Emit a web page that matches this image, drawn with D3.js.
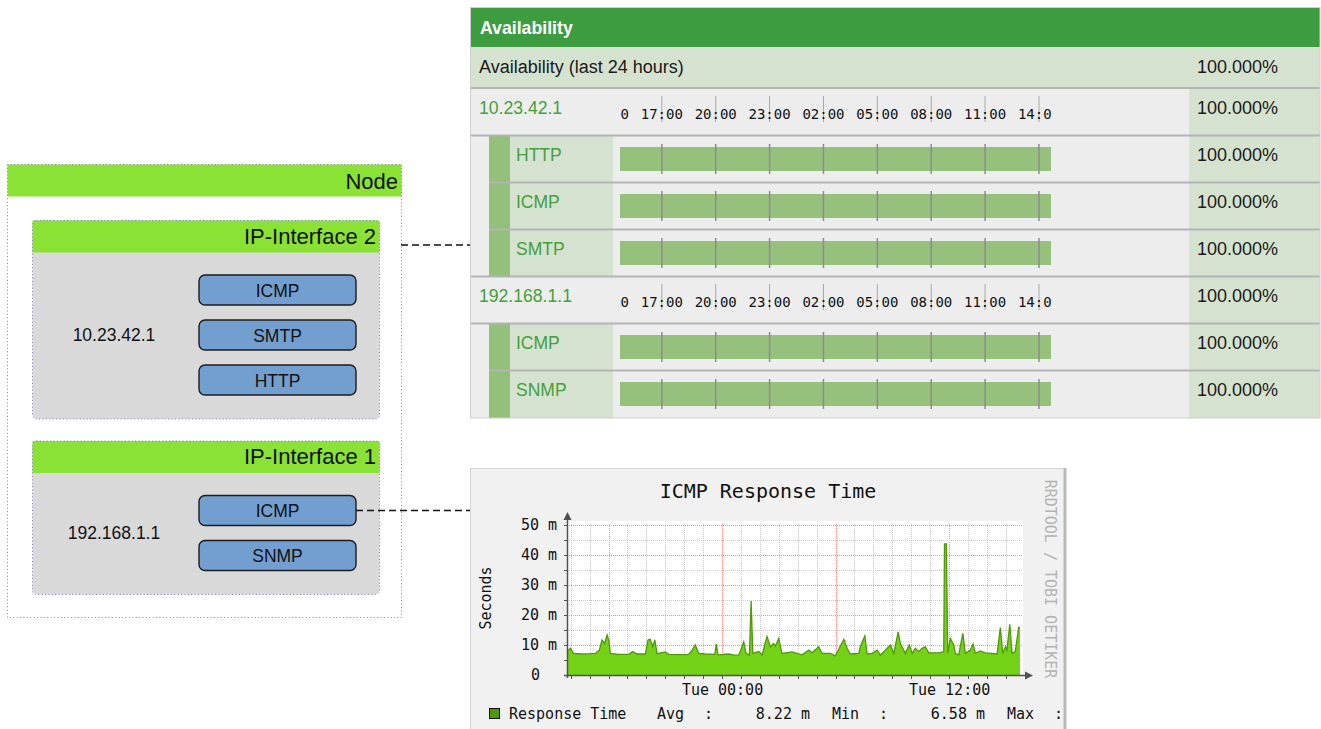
<!DOCTYPE html>
<html>
<head>
<meta charset="utf-8">
<script src="https://cdn.jsdelivr.net/npm/d3@7"></script>
<style>
  body { margin: 0; background: #fff; }
  svg { display: block; }
  .sans { font-family: "Liberation Sans", Arial, sans-serif; }
  .mono { font-family: "DejaVu Sans Mono", monospace; }
</style>
</head>
<body>
<svg id="chart" width="1321" height="729"></svg>
<script>
// ---- node diagram ----
const nodeLabel = "Node";
const ifaceNames = ["IP-Interface 2", "IP-Interface 1"];
const ifaceIps = ["10.23.42.1", "192.168.1.1"];
const ifaceServices = [["ICMP", "SMTP", "HTTP"], ["ICMP", "SNMP"]];

// ---- availability table ----
const tableTitle = "Availability";
const tableSubtitle = "Availability (last 24 hours)";
const hostNames = ["10.23.42.1", "192.168.1.1"];
const hostServices = [["HTTP", "ICMP", "SMTP"], ["ICMP", "SNMP"]];
const overallAvail = 100;
const hostAvail = [100, 100];
const serviceAvail = [[100, 100, 100], [100, 100]];
const availWindow = [14.67, 38.67]; // hours since yesterday 00:00
const availTickHours = [14, 17, 20, 23, 26, 29, 32, 35, 38];
const availTickLabels = ["14:00", "17:00", "20:00", "23:00", "02:00", "05:00", "08:00", "11:00", "14:00"];

// ---- ICMP response time (hours from Tue 00:00, milliseconds) ----
const rtTitle = "ICMP Response Time";
const rtHours = [-8.22, -8.04, -7.87, -7.43, -6.99, -6.72, -6.51, -6.37, -6.23, -6.10, -6.01, -5.93,
  -5.49, -4.96, -4.75, -4.52, -4.08, -3.94, -3.82, -3.69, -3.58, -3.46, -3.02, -2.84, -2.32, -1.79,
  -1.61, -1.44, -1.26, -0.91, -0.41, -0.33, -0.24, 0.33, 0.59, 0.86, 1.03, 1.12, 1.24, 1.42, 1.51,
  1.60, 1.91, 2.09, 2.35, 2.53, 2.70, 2.79, 2.97, 3.14, 3.67, 4.20, 4.56, 4.73, 5.08, 5.26, 5.70,
  5.96, 6.41, 6.58, 6.75, 7.20, 7.28, 7.52, 7.64, 7.90, 8.17, 8.34, 8.60, 8.78, 8.87, 9.05, 9.28,
  9.40, 9.66, 9.87, 10.02, 10.19, 10.37, 10.54, 10.72, 10.90, 11.43, 11.69, 11.73, 11.83, 11.90,
  12.04, 12.22, 12.30, 12.48, 12.70, 12.83, 13.10, 13.24, 13.36, 13.63, 13.89, 14.24, 14.51, 14.68,
  14.81, 14.95, 15.03, 15.18, 15.30, 15.47, 15.65, 15.72];
const rtValues = [7.8, 8.9, 7.2, 7.0, 7.1, 7.2, 8.3, 11.7, 10.5, 13.3, 11.5, 7.2,
  6.9, 6.9, 7.8, 7.0, 7.0, 11.7, 11.9, 9.4, 11.7, 7.1, 7.7, 6.9, 6.8, 6.9,
  8.3, 10.0, 7.2, 7.0, 6.9, 10.3, 6.7, 7.0, 6.6, 6.7, 9.4, 11.1, 7.2, 6.7, 24.7,
  7.2, 7.8, 6.7, 12.8, 9.4, 10.5, 9.6, 12.2, 7.2, 7.7, 6.7, 8.3, 7.4, 9.4, 7.2, 7.2,
  6.4, 11.9, 8.9, 7.0, 7.2, 9.4, 13.0, 7.0, 7.2, 8.3, 6.6, 8.3, 9.4, 10.0, 7.2, 14.4,
  10.5, 7.2, 10.0, 7.2, 8.9, 7.8, 8.9, 9.4, 7.4, 7.4, 7.8, 43.7, 43.7, 7.4,
  12.2, 10.0, 7.2, 6.7, 13.9, 7.2, 8.3, 10.3, 7.2, 8.0, 7.4, 7.2, 7.0, 15.8,
  7.2, 9.4, 8.3, 16.9, 7.2, 7.8, 15.9, 15.9];
const rtWindow = [-8.22, 15.72];
const rtYTicks = [0, 10, 20, 30, 40, 50];
const rtXTickHours = [0, 12];
const rtXTickLabels = ["Tue 00:00", "Tue 12:00"];
const rtLegend = "Response Time";
const rtStatNames = ["Avg", "Min", "Max"];
const rtStatValues = ["8.22 m", "6.58 m", ""];

const svg = d3.select("#chart");
const pct = v => d3.format(".3f")(v) + "%";

// ================= node diagram =================
const GREEN = "#8ae234", BODY = "#d9d9d9", BLUE = "#729fcf";
const dotted = sel => sel.attr("fill", "none").attr("stroke", "#7d7db5")
  .attr("stroke-width", 1).attr("stroke-dasharray", "1,2.4");

const diag = svg.append("g").attr("class", "sans");
diag.append("rect").attr("x", 7.5).attr("y", 164.5).attr("width", 394).attr("height", 32)
  .attr("fill", GREEN);
diag.append("text").attr("x", 398).attr("y", 188.5).attr("text-anchor", "end")
  .attr("font-size", 22).attr("fill", "#111").text(nodeLabel);

let ifaceTop = 220;
const connectY = [];
ifaceNames.forEach((name, k) => {
  const n = ifaceServices[k].length;
  const bodyH = n * 45 + 31.5;
  const top = ifaceTop, headBot = top + 32, bottom = headBot + bodyH;
  const g = diag.append("g");
  g.append("rect").attr("x", 32.5).attr("y", top + 0.5).attr("width", 347).attr("height", bottom - top)
    .attr("rx", 5).attr("fill", BODY);
  g.append("rect").attr("x", 32.5).attr("y", top + 0.5).attr("width", 347).attr("height", 32)
    .attr("fill", GREEN);
  g.append("rect").attr("x", 32.5).attr("y", top + 0.5).attr("width", 347).attr("height", bottom - top)
    .attr("rx", 4).call(dotted);
  g.append("text").attr("x", 376).attr("y", top + 23.5).attr("text-anchor", "end")
    .attr("font-size", 22).attr("fill", "#111").text(name);
  g.append("text").attr("x", 114).attr("y", (headBot + bottom) / 2).attr("dy", "0.35em")
    .attr("text-anchor", "middle").attr("font-size", 17.5).attr("fill", "#111").text(ifaceIps[k]);
  ifaceServices[k].forEach((s, i) => {
    const by = headBot + 23 + i * 45;
    g.append("rect").attr("x", 199).attr("y", by).attr("width", 157).attr("height", 30)
      .attr("rx", 6).attr("fill", BLUE).attr("stroke", "#1c1c1c").attr("stroke-width", 1.4);
    g.append("text").attr("x", 277.5).attr("y", by + 21.5).attr("text-anchor", "middle")
      .attr("font-size", 17.5).attr("fill", "#111").text(s);
    if (k === 1 && i === 0) connectY.push([356, by + 15]);
  });
  if (k === 0) connectY.unshift([401, top + 25]);
  ifaceTop = bottom + 22;
});
// node outline drawn last
diag.append("rect").attr("x", 7.5).attr("y", 164.5).attr("width", 394).attr("height", 453).call(dotted);

// connectors
connectY.forEach(([x0, y]) => {
  svg.append("line").attr("x1", x0).attr("x2", 470).attr("y1", y).attr("y2", y)
    .attr("stroke", "#111").attr("stroke-width", 1.4).attr("stroke-dasharray", "7,4");
});

// ================= availability table =================
const TX0 = 470, TX1 = 1320, PCTX = 1189;
const LIGHT = "#d6e2d0", ROWBG = "#ededed", SEP = "#b4b4b4", TXTGREEN = "#43a03b", BARGREEN = "#96c17d";
const xAvail = d3.scaleLinear().domain(availWindow).range([620, 1051]);
const tbl = svg.append("g").attr("class", "sans");

svg.append("defs").append("clipPath").attr("id", "timeclip")
  .append("rect").attr("x", 620).attr("y", 0).attr("width", 431).attr("height", 729);

tbl.append("rect").attr("x", TX0).attr("y", 8).attr("width", TX1 - TX0).attr("height", 39).attr("fill", "#3d9c40");
tbl.append("text").attr("x", 480).attr("y", 34).attr("font-size", 17.7).attr("font-weight", "bold")
  .attr("fill", "#fff").text(tableTitle);
tbl.append("rect").attr("x", TX0).attr("y", 47).attr("width", TX1 - TX0).attr("height", 41).attr("fill", LIGHT);
tbl.append("text").attr("x", 479).attr("y", 73).attr("font-size", 18).attr("fill", "#1a1a1a").text(tableSubtitle);
tbl.append("text").attr("x", 1197).attr("y", 73).attr("font-size", 18).attr("fill", "#1a1a1a").text(pct(overallAvail));

// flatten rows
const rows = [];
hostNames.forEach((h, k) => {
  rows.push({ type: "host", name: h, avail: hostAvail[k] });
  hostServices[k].forEach((s, i) => rows.push({
    type: "svc", name: s, avail: serviceAvail[k][i], last: i === hostServices[k].length - 1 }));
});

const ROW0 = 89, ROWH = 47;
rows.forEach((r, i) => {
  const top = ROW0 + i * ROWH;
  const g = tbl.append("g");
  g.append("rect").attr("x", TX0).attr("y", top).attr("width", PCTX - TX0).attr("height", ROWH).attr("fill", ROWBG);
  g.append("rect").attr("x", PCTX).attr("y", top).attr("width", TX1 - PCTX).attr("height", ROWH).attr("fill", LIGHT);
  if (r.type === "host") {
    g.append("text").attr("x", 479).attr("y", top + 25).attr("font-size", 17.6).attr("fill", TXTGREEN).text(r.name);
    const ax = g.append("g").attr("clip-path", "url(#timeclip)");
    ax.selectAll("line").data(availTickHours).join("line")
      .attr("x1", d => xAvail(d)).attr("x2", d => xAvail(d))
      .attr("y1", top + 7).attr("y2", top + 33).attr("stroke", "#a8a8a8").attr("stroke-width", 1);
    ax.selectAll("text").data(availTickHours).join("text")
      .attr("class", "mono").attr("x", d => xAvail(d)).attr("y", top + 30)
      .attr("text-anchor", "middle").attr("font-size", 14).attr("fill", "#111")
      .text((d, j) => availTickLabels[j]);
  } else {
    g.append("rect").attr("x", 489).attr("y", top).attr("width", 21).attr("height", ROWH).attr("fill", "#93c07a");
    g.append("rect").attr("x", 510).attr("y", top).attr("width", 103).attr("height", ROWH).attr("fill", LIGHT);
    g.append("text").attr("x", 516).attr("y", top + 25).attr("font-size", 17.5).attr("fill", TXTGREEN).text(r.name);
    const w = (xAvail(availWindow[1]) - xAvail(availWindow[0])) * r.avail / 100;
    g.append("rect").attr("x", xAvail(availWindow[0])).attr("y", top + 11).attr("width", w).attr("height", 24)
      .attr("fill", BARGREEN);
    g.selectAll("line.tk").data(availTickHours.filter(h => h > availWindow[0] && h < availWindow[1])).join("line")
      .attr("class", "tk")
      .attr("x1", d => xAvail(d)).attr("x2", d => xAvail(d))
      .attr("y1", top + 8).attr("y2", top + 38).attr("stroke", "#8c8c8c").attr("stroke-width", 1.5);
  }
  g.append("text").attr("x", 1197).attr("y", top + 25).attr("font-size", 18).attr("fill", "#1a1a1a").text(pct(r.avail));
});
// separators
tbl.append("line").attr("x1", TX0).attr("x2", TX1).attr("y1", 88).attr("y2", 88).attr("stroke", SEP).attr("stroke-width", 2);
rows.forEach((r, i) => {
  const y = ROW0 + (i + 1) * ROWH - 0.5;
  if (i === rows.length - 1) return;
  const inner = r.type === "svc" && !r.last;
  tbl.append("line").attr("x1", inner ? 489 : TX0).attr("x2", TX1).attr("y1", y).attr("y2", y)
    .attr("stroke", SEP).attr("stroke-width", 1.8);
});
tbl.append("rect").attr("x", TX0 + 0.5).attr("y", 7.5).attr("width", TX1 - TX0 - 0.5)
  .attr("height", ROW0 + rows.length * ROWH - 7.5).attr("fill", "none").attr("stroke", "#d0d0d0");

// ================= RRD graph =================
const rrd = svg.append("g").attr("class", "mono");
rrd.append("rect").attr("x", 470.5).attr("y", 468.5).attr("width", 595).attr("height", 280)
  .attr("fill", "#f1f1f1").attr("stroke", "#d2d2d2");
rrd.append("line").attr("x1", 1065).attr("x2", 1065).attr("y1", 468).attr("y2", 729)
  .attr("stroke", "#b9b9b9").attr("stroke-width", 3);

const xr = d3.scaleLinear().domain(rtWindow).range([567, 1020]);
const yr = d3.scaleLinear().domain([0, 50]).range([675, 525]);

rrd.append("rect").attr("x", 567).attr("y", 521).attr("width", 456).attr("height", 154).attr("fill", "#fff");

// grid
const hourLines = d3.range(Math.ceil(rtWindow[0]), Math.floor(rtWindow[1]) + 1);
const valLines = d3.range(5, 55, 5);
const isMajorHour = h => Math.abs(h % 6) < 1e-9;
rrd.append("g").selectAll("line").data(hourLines).join("line")
  .attr("x1", d => Math.floor(xr(d)) + 0.5).attr("x2", d => Math.floor(xr(d)) + 0.5)
  .attr("y1", yr(0)).attr("y2", yr(50) - 2)
  .attr("stroke", d => isMajorHour(d) ? "#ee8f8f" : "#c8c8c8").attr("stroke-dasharray", "1,1");
rrd.append("g").selectAll("line").data(valLines).join("line")
  .attr("x1", 567).attr("x2", 1023)
  .attr("y1", d => Math.round(yr(d)) + 0.5).attr("y2", d => Math.round(yr(d)) + 0.5)
  .attr("stroke", d => d % 10 === 0 ? "#ee8f8f" : "#c8c8c8").attr("stroke-dasharray", "1,1");

// data
const pts = rtHours.map((h, i) => [h, rtValues[i]]);
rrd.append("path").datum(pts)
  .attr("d", d3.area().x(d => xr(d[0])).y0(yr(0)).y1(d => yr(d[1])))
  .attr("fill", "#73d216");
rrd.append("path").datum(pts)
  .attr("d", d3.line().x(d => xr(d[0])).y(d => yr(d[1])))
  .attr("fill", "none").attr("stroke", "#4e9a06").attr("stroke-width", 1.3);

// axes
const AX = "#505050";
rrd.append("line").attr("x1", 567.5).attr("x2", 567.5).attr("y1", 678).attr("y2", 518).attr("stroke", AX).attr("stroke-width", 1.5);
rrd.append("path").attr("d", "M567.5,512 L563.5,520 L571.5,520 Z").attr("fill", AX);
rrd.append("line").attr("x1", 564).attr("x2", 1026).attr("y1", 675.5).attr("y2", 675.5).attr("stroke", AX).attr("stroke-width", 1.5);
rrd.append("path").attr("d", "M1033,675.5 L1025,671.5 L1025,679.5 Z").attr("fill", AX);
rrd.append("g").selectAll("line").data(hourLines).join("line")
  .attr("x1", d => Math.floor(xr(d)) + 0.5).attr("x2", d => Math.floor(xr(d)) + 0.5)
  .attr("y1", 676).attr("y2", 679).attr("stroke", AX);
rrd.append("g").selectAll("line").data(valLines).join("line")
  .attr("x1", 564).attr("x2", 567)
  .attr("y1", d => Math.round(yr(d)) + 0.5).attr("y2", d => Math.round(yr(d)) + 0.5).attr("stroke", AX);

// labels
rrd.append("text").attr("x", 768).attr("y", 498).attr("text-anchor", "middle")
  .attr("font-size", 20).attr("fill", "#111").text(rtTitle);
rrd.append("g").selectAll("text").data(rtYTicks).join("text")
  .attr("x", d => d === 0 ? 540 : 557).attr("y", d => yr(d)).attr("dy", "0.36em")
  .attr("text-anchor", "end").attr("font-size", 15).attr("fill", "#111")
  .text(d => d === 0 ? "0" : d + " m");
rrd.append("g").selectAll("text").data(rtXTickHours).join("text")
  .attr("x", d => xr(d)).attr("y", 695).attr("text-anchor", "middle")
  .attr("font-size", 15).attr("fill", "#111").text((d, i) => rtXTickLabels[i]);
rrd.append("text").attr("transform", "translate(486,598) rotate(-90)")
  .attr("text-anchor", "middle").attr("dominant-baseline", "central")
  .attr("font-size", 15).attr("fill", "#111").text("Seconds");
rrd.append("text").attr("transform", "translate(1050,579) rotate(90)")
  .attr("text-anchor", "middle").attr("dominant-baseline", "central")
  .attr("font-size", 15).attr("fill", "#b3b3b3").text("RRDTOOL / TOBI OETIKER");

// legend
rrd.append("rect").attr("x", 489.5).attr("y", 708.5).attr("width", 10).attr("height", 10)
  .attr("fill", "#4e9a06").attr("stroke", "#111");
rrd.append("text").attr("x", 509).attr("y", 719).attr("font-size", 15).attr("fill", "#111").text(rtLegend);
rtStatNames.forEach((n, i) => {
  const x0 = 657 + i * 175;
  rrd.append("text").attr("x", x0).attr("y", 719).attr("font-size", 15).attr("fill", "#111").text(n);
  rrd.append("text").attr("x", x0 + 47).attr("y", 719).attr("font-size", 15).attr("fill", "#111").text(":");
  rrd.append("text").attr("x", x0 + 153).attr("y", 719).attr("text-anchor", "end")
    .attr("font-size", 15).attr("fill", "#111").text(rtStatValues[i]);
});
</script>
</body>
</html>
